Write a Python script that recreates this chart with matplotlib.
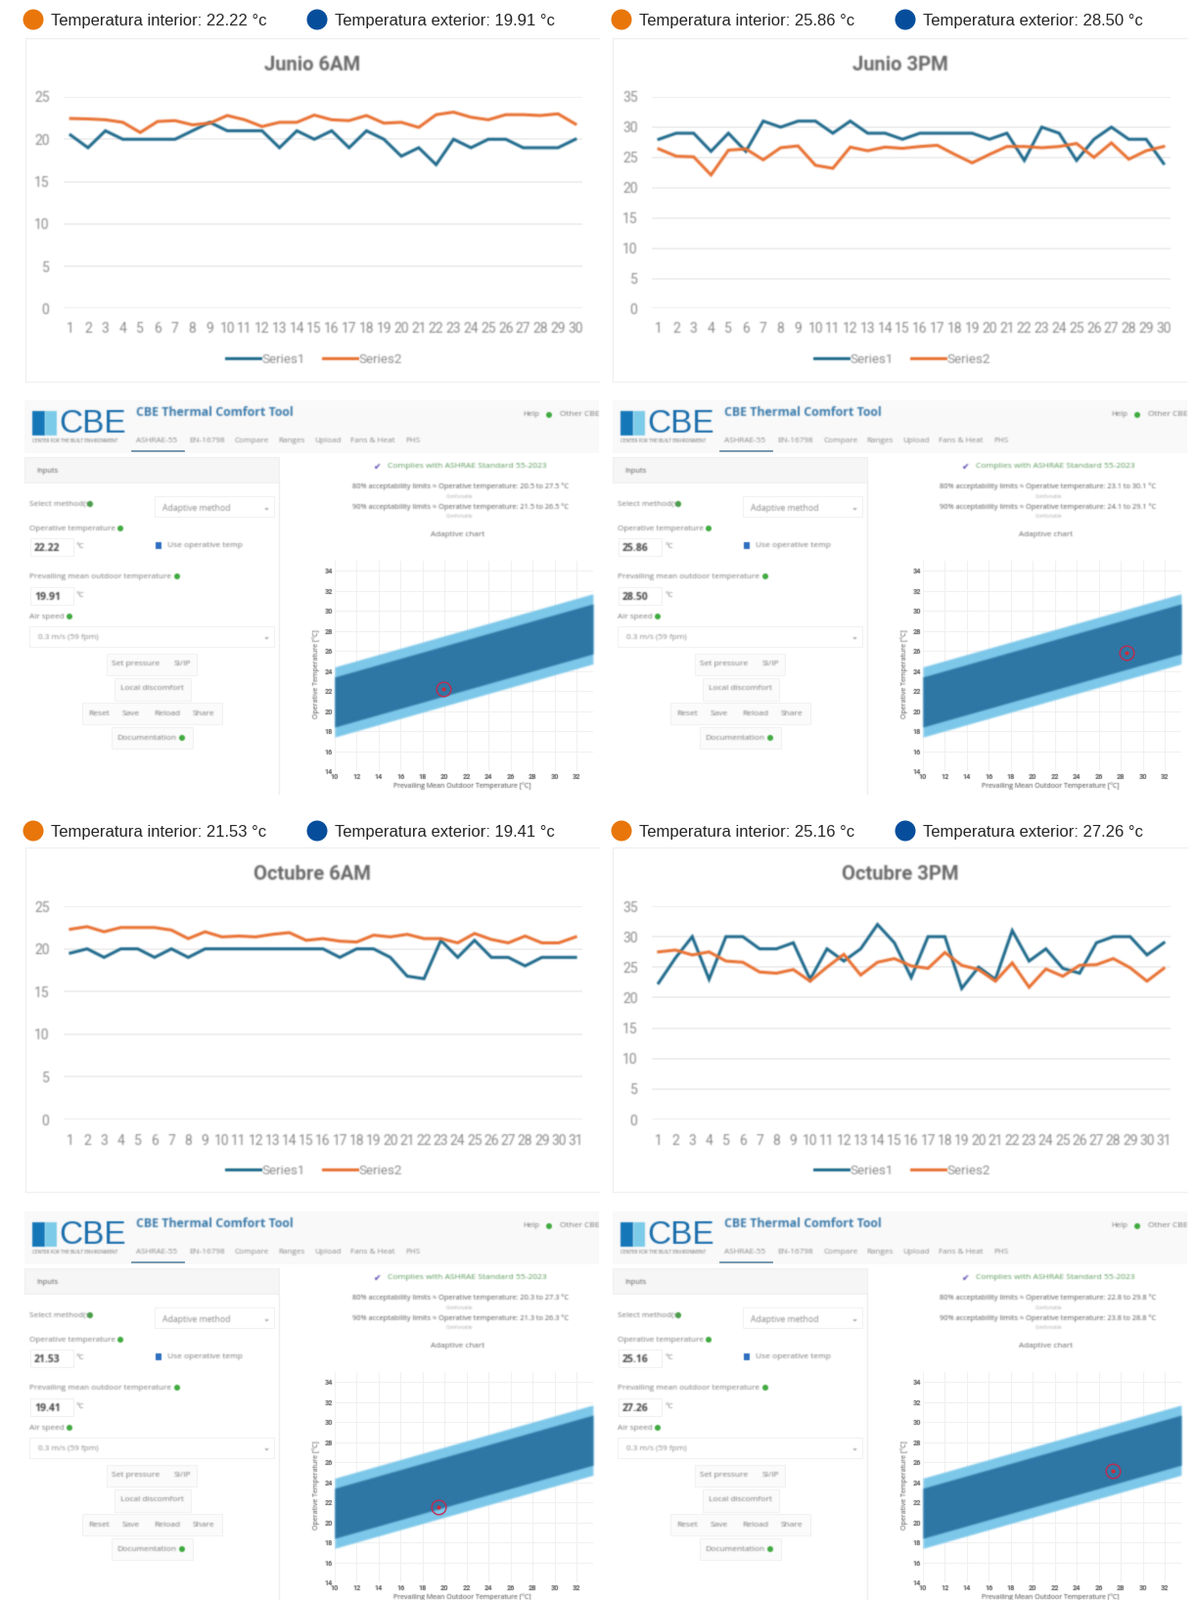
import numpy as np
import matplotlib
matplotlib.use('Agg')
import matplotlib.pyplot as plt
from matplotlib.patches import Ellipse, Rectangle
from matplotlib.transforms import Bbox

# daily temperatures
junio6_s1 = [20.5, 19, 21, 20, 20, 20, 20, 21, 22, 21, 21, 21, 19, 21, 20, 21, 19, 21, 20, 18, 19, 17, 20, 19, 20, 20, 19, 19, 19, 20]
junio6_s2 = [22.45, 22.4, 22.3, 22, 20.8, 22.1, 22.2, 21.7, 21.9, 22.8, 22.3, 21.5, 22, 22, 22.85, 22.3, 22.2, 22.8, 21.9, 22, 21.4, 22.9, 23.2, 22.6, 22.3, 22.9, 22.9, 22.8, 23, 21.8]
junio3_s1 = [28, 29, 29, 26, 29, 26, 31, 30, 31, 31, 29, 31, 29, 29, 28, 29, 29, 29, 29, 28, 29, 24.5, 30, 29, 24.5, 28, 30, 28, 28, 24]
junio3_s2 = [26.4, 25.2, 25.1, 22.1, 26.2, 26.4, 24.6, 26.6, 26.9, 23.7, 23.2, 26.7, 26.1, 26.7, 26.5, 26.8, 27, 25.5, 24.1, 25.5, 26.8, 26.8, 26.6, 26.8, 27.3, 25, 27.4, 24.7, 26.1, 26.8]
octubre6_s1 = [19.5, 20, 19, 20, 20, 19, 20, 19, 20, 20, 20, 20, 20, 20, 20, 20, 19, 20, 20, 19, 16.8, 16.5, 21, 19, 21, 19, 19, 18, 19, 19, 19]
octubre6_s2 = [22.3, 22.6, 22, 22.5, 22.5, 22.5, 22.2, 21.2, 22, 21.4, 21.5, 21.4, 21.7, 21.9, 21, 21.2, 20.9, 20.8, 21.6, 21.4, 21.7, 21.2, 21.2, 20.7, 21.8, 21.1, 20.7, 21.5, 20.7, 20.7, 21.4]
octubre3_s1 = [22.4, 26.5, 30, 23, 30, 30, 28, 28, 29, 23, 28, 26, 28, 32, 29, 23.3, 30, 30, 21.5, 25, 23, 31, 26, 28, 24.8, 24, 29, 30, 30, 27, 29]
octubre3_s2 = [27.5, 27.8, 27, 27.5, 26, 25.8, 24.2, 24, 24.6, 22.7, 25, 27.1, 23.7, 25.8, 26.4, 25.2, 24.8, 27.4, 25.3, 24.6, 22.7, 25.7, 21.7, 24.7, 23.5, 25.3, 25.4, 26.4, 24.9, 22.7, 24.8]

titles = ['Junio 6AM', 'Junio 3PM', 'Octubre 6AM', 'Octubre 3PM']
interior = ['22.22', '25.86', '21.53', '25.16']
exterior = ['19.91', '28.50', '19.41', '27.26']
lim80 = ['20.5 to 27.5', '23.1 to 30.1', '20.3 to 27.3', '22.8 to 29.8']
lim90 = ['21.5 to 26.5', '24.1 to 29.1', '21.3 to 26.3', '23.8 to 28.8']

# adaptive chart band
band_x = [10, 33.5]
band80_low = [17.4, 24.7]
band80_high = [24.4, 31.7]
band90_low = [18.4, 25.7]
band90_high = [23.4, 30.7]

W, H = 1222, 1635
BLUE, ORANGE = '#1f6a8c', '#e97132'
UIFONT = 'Open Sans'


def blur(sigma):
    r = int(np.ceil(3 * sigma))
    k = np.exp(-0.5 * (np.arange(-r, r + 1) / sigma) ** 2)
    k /= k.sum()

    def f(img, dpi):
        a = img[..., 3]
        p = np.dstack([img[..., :3] * a[..., None], a])
        p = np.pad(p, ((r, r), (r, r), (0, 0)))
        for axis in (0, 1):
            p = sum(w * np.roll(p, i, axis) for i, w in zip(range(-r, r + 1), k))
        a2 = p[..., 3]
        rgb = p[..., :3] / np.maximum(a2, 1e-6)[..., None]
        return np.dstack([rgb, a2]), -r, -r
    return f


fig = plt.figure(figsize=(W / 100, H / 100), dpi=100)
ov = fig.add_axes([0, 0, 1, 1], zorder=-1)
ov.set_xlim(0, W)
ov.set_ylim(H, 0)
ov.axis('off')


def txt(x, y, s, size=5.2, color='#777777', ha='left', weight='normal', sigma=0.7, family=UIFONT, rot=0, clip_x=None):
    t = ov.text(x, y, s, fontsize=size, color=color, ha=ha, va='center', fontweight=weight, family=family, rotation=rot)
    t.set_agg_filter(blur(sigma))
    if clip_x is not None:
        t.set_clip_box(Bbox([[0, 0], [clip_x, H]]))
        t.set_clip_on(True)
    return t


def box(x0, y0, x1, y1, fc='white', ec='#f2f2f2', lw=0.8):
    ov.add_patch(Rectangle((x0, y0), x1 - x0, y1 - y0, fc=fc, ec=ec, lw=lw))


def dot(x, y, r=3, c='#3faa3f'):
    e = Ellipse((x, y), r * 2, r * 2, fc=c, ec='none')
    e.set_agg_filter(blur(0.6))
    ov.add_patch(e)


def header(dx, dy, i):
    ov.add_patch(Ellipse((34 + dx, 20 + dy), 21, 21, fc='#e8760a', ec='none'))
    txt(52 + dx, 21 + dy, 'Temperatura interior: %s °c' % interior[i], size=12, color='#222222', family='Liberation Sans', sigma=0.35)
    ov.add_patch(Ellipse((324 + dx, 20 + dy), 21, 21, fc='#064e9c', ec='none'))
    txt(342 + dx, 21 + dy, 'Temperatura exterior: %s °c' % exterior[i], size=12, color='#222222', family='Liberation Sans', sigma=0.35)


def line_chart(dx, top, bottom, i, s1, s2, ymax, xpad):
    # frame
    fx = dx - 1 if dx else 0
    ov.plot([25.5 + fx, 25.5 + fx, 612 + dx], [bottom + 74, top - 60, top - 60], color='#f0f0f0', lw=1)
    ov.plot([25.5 + fx, 612 + dx], [bottom + 74, bottom + 74], color='#f2f2f2', lw=1)
    txt(319 + dx, top - 32.5, titles[i], size=14.5, color='#6a6a6a', ha='center', weight='bold', sigma=0.8, family='Roboto')

    ax = fig.add_axes([(65 + dx) / W, 1 - bottom / H, 530 / W, (bottom - top) / H])
    ax.patch.set_alpha(0)
    for s in ax.spines.values():
        s.set_visible(False)
    n = len(s1)
    days = np.arange(1, n + 1)
    ax.set_xlim(0.6, n + 0.4)
    ax.set_ylim(0, ymax)
    ax.set_yticks(range(0, ymax + 1, 5))
    ax.set_xticks(days)
    ax.tick_params(length=0, labelsize=10, labelcolor='#8a8a8a')
    ax.tick_params(axis='x', pad=xpad)
    ax.tick_params(axis='y', pad=10.5)
    for lab in ax.get_xticklabels() + ax.get_yticklabels():
        lab.set_family('Roboto')
        lab.set_agg_filter(blur(0.7))
    ax.grid(axis='y', color='#ededed', lw=1.2)
    ax.set_axisbelow(True)
    l1, = ax.plot(days, s1, color=BLUE, lw=2.2, label='Series1', solid_joinstyle='miter')
    l2, = ax.plot(days, s2, color=ORANGE, lw=2.2, label='Series2', solid_joinstyle='miter')
    l1.set_agg_filter(blur(0.7))
    l2.set_agg_filter(blur(0.7))
    leg = ax.legend(loc='center', bbox_to_anchor=(321 + dx, bottom + 52), bbox_transform=ov.transData,
                    ncol=2, frameon=False, handlelength=2.6, handletextpad=0.1, columnspacing=1.4,
                    labelcolor='#8a8a8a', prop={'family': 'Roboto', 'size': 9.6})
    for t in leg.get_texts():
        t.set_agg_filter(blur(0.7))
    for ll in leg.get_lines():
        ll.set_agg_filter(blur(0.7))


def screenshot(dx, dy, i):
    # top bar with logo and tabs
    box(25 + dx, 409 + dy, 612 + dx, 463 + dy, fc='#f9f9f9', ec='none')
    m = Rectangle((33 + dx, 420 + dy), 13, 25, fc='#1577b8', ec='none')
    m.set_agg_filter(blur(0.7))
    ov.add_patch(m)
    m2 = Rectangle((46 + dx, 420 + dy), 12, 25, fc='#7ccbe9', ec='none')
    m2.set_agg_filter(blur(0.7))
    ov.add_patch(m2)
    txt(60 + dx, 433 + dy, 'CBE', size=24, color='#1a6eac', family='Liberation Sans', sigma=0.6)
    txt(33 + dx, 450 + dy, 'CENTER FOR THE BUILT ENVIRONMENT', size=3.4, color='#666666')
    txt(139 + dx, 421 + dy, 'CBE Thermal Comfort Tool', size=8.9, color='#3b7bab', weight='bold', sigma=0.7)
    nav_x = [139, 193, 240, 284, 321, 358, 414]
    nav = ['ASHRAE-55', 'EN-16798', 'Compare', 'Ranges', 'Upload', 'Fans & Heat', 'PHS']
    for x, s in zip(nav_x, nav):
        txt(x + dx, 450 + dy, s, size=5.9, color='#888888')
    ov.plot([135 + dx, 188 + dx], [461 + dy, 461 + dy], color='#6d8fa8', lw=1.3)
    txt(534 + dx, 423 + dy, 'Help', size=5.7, color='#777777')
    dot(561 + dx, 424 + dy)
    txt(572 + dx, 423 + dy, 'Other CBE', size=6, color='#777777', clip_x=612 + dx)

    # inputs card
    box(25 + dx, 467 + dy, 285 + dx, 493 + dy, fc='#f6f6f6', ec='#f0f0f0')
    ov.plot([285 + dx, 285 + dx], [493 + dy, 811 + dy], color='#eeeeee', lw=1)
    txt(37 + dx, 481 + dy, 'Inputs', size=5.4, color='#555555')
    txt(30 + dx, 515 + dy, 'Select method(s)', size=5.9)
    dot(92 + dx, 515 + dy)
    box(158 + dx, 507 + dy, 280 + dx, 528 + dy)
    txt(166 + dx, 519 + dy, 'Adaptive method', size=6.2, color='#888888')
    txt(272 + dx, 518 + dy, '⌄', size=6, color='#555555', ha='center', family='DejaVu Sans')
    txt(30 + dx, 540 + dy, 'Operative temperature', size=5.9)
    dot(123 + dx, 540 + dy)
    box(31 + dx, 550 + dy, 75 + dx, 568 + dy)
    txt(35 + dx, 560 + dy, interior[i], size=7.5, color='#444444', weight='bold')
    txt(78 + dx, 558 + dy, '°C', size=5.9)
    b = Rectangle((159 + dx, 554 + dy), 6, 7, fc='#2f6fc0', ec='none')
    b.set_agg_filter(blur(0.6))
    ov.add_patch(b)
    txt(171 + dx, 557 + dy, 'Use operative temp', size=6)
    txt(30 + dx, 589 + dy, 'Prevailing mean outdoor temperature', size=5.9)
    dot(181 + dx, 589 + dy)
    box(31 + dx, 600 + dy, 75 + dx, 618 + dy)
    txt(35 + dx, 610 + dy, exterior[i], size=7.5, color='#444444', weight='bold')
    txt(78 + dx, 608 + dy, '°C', size=5.9)
    txt(30 + dx, 630 + dy, 'Air speed', size=5.9)
    dot(71 + dx, 630 + dy)
    box(30 + dx, 640 + dy, 280 + dx, 661 + dy)
    txt(39 + dx, 651 + dy, '0.3 m/s (59 fpm)', size=5.9, color='#888888')
    txt(272 + dx, 650 + dy, '⌄', size=6, color='#555555', ha='center', family='DejaVu Sans')

    # buttons
    box(109 + dx, 668 + dy, 201 + dx, 690 + dy, fc='#fbfbfb')
    txt(139 + dx, 678 + dy, 'Set pressure', ha='center', size=6)
    txt(186 + dx, 678 + dy, 'SI/IP', ha='center', size=6)
    box(117 + dx, 693 + dy, 195 + dx, 716 + dy, fc='#fbfbfb')
    txt(155 + dx, 703 + dy, 'Local discomfort', ha='center', size=6)
    box(84 + dx, 718 + dy, 227 + dx, 740 + dy, fc='#fbfbfb')
    for x, s in zip([101, 134, 171, 208], ['Reset', 'Save', 'Reload', 'Share']):
        txt(x + dx, 729 + dy, s, ha='center', size=6)
    box(114 + dx, 743 + dy, 197 + dx, 765 + dy, fc='#fbfbfb')
    txt(150 + dx, 754 + dy, 'Documentation', ha='center', size=6)
    dot(186 + dx, 754 + dy)

    # results text
    txt(386 + dx, 477 + dy, '✔', size=6.5, color='#4a3fa8', ha='center', family='DejaVu Sans')
    txt(477 + dx, 476 + dy, 'Complies with ASHRAE Standard 55-2023', size=6.1, color='#5a9a5a', ha='center')
    txt(470 + dx, 497 + dy, '80% acceptability limits ≈ Operative temperature: ' + lim80[i] + ' °C', size=5.3, color='#555555', ha='center')
    txt(470 + dx, 507 + dy, 'Comfortable', size=3.4, color='#aaaaaa', ha='center')
    txt(470 + dx, 518 + dy, '90% acceptability limits ≈ Operative temperature: ' + lim90[i] + ' °C', size=5.3, color='#555555', ha='center')
    txt(470 + dx, 527 + dy, 'Comfortable', size=3.4, color='#aaaaaa', ha='center')
    txt(468 + dx, 546 + dy, 'Adaptive chart', size=5.9, color='#666666', ha='center')

    # adaptive chart
    ax = fig.add_axes([(342 + dx) / W, 1 - (788 + dy) / H, 263.5 / W, 215 / H])
    ax.patch.set_alpha(0)
    for s in ax.spines.values():
        s.set_visible(False)
    ax.set_xlim(10, 33.47)
    ax.set_ylim(14, 35)
    ax.set_xticks(range(10, 33, 2))
    ax.set_yticks(range(14, 35, 2))
    ax.tick_params(length=0, labelsize=5.2, labelcolor='#555555', pad=1.5)
    for lab in ax.get_xticklabels() + ax.get_yticklabels():
        lab.set_family('Roboto')
        lab.set_fontweight('bold')
        lab.set_agg_filter(blur(0.5))
    ax.grid(color='#f1f1f1', lw=0.8)
    ax.set_axisbelow(True)
    f1 = ax.fill_between(band_x, band80_low, band80_high, color='#7cc8ea', lw=0)
    f2 = ax.fill_between(band_x, band90_low, band90_high, color='#2e77a5', lw=0)
    f1.set_agg_filter(blur(0.6))
    f2.set_agg_filter(blur(0.6))
    xv, yv = float(exterior[i]), float(interior[i])
    p1, = ax.plot([xv], [yv], 'o', mfc='none', mec='#c8264a', ms=10.5, mew=1)
    p2, = ax.plot([xv], [yv], 'o', color='#d22a3a', ms=2)
    p1.set_agg_filter(blur(0.4))
    p2.set_agg_filter(blur(0.4))
    txt(472 + dx, 803 + dy, 'Prevailing Mean Outdoor Temperature [°C]', size=5, color='#444444', ha='center', sigma=0.6)
    txt(323 + dx, 689 + dy, 'Operative Temperature [°C]', size=5, color='#444444', ha='center', sigma=0.6, rot=90)


DX, DY = 601, 829
header(0, 0, 0)
header(DX, 0, 1)
header(0, DY, 2)
header(DX, DY, 3)
line_chart(0, 99, 315.5, 0, junio6_s1, junio6_s2, 25, 9.5)
line_chart(DX, 99, 315.5, 1, junio3_s1, junio3_s2, 35, 9.5)
line_chart(0, 926, 1144, 2, octubre6_s1, octubre6_s2, 25, 11)
line_chart(DX, 926, 1144, 3, octubre3_s1, octubre3_s2, 35, 11)
screenshot(0, 0, 0)
screenshot(DX, 0, 1)
screenshot(0, DY, 2)
screenshot(DX, DY, 3)

fig.savefig('out.png', dpi=100)
